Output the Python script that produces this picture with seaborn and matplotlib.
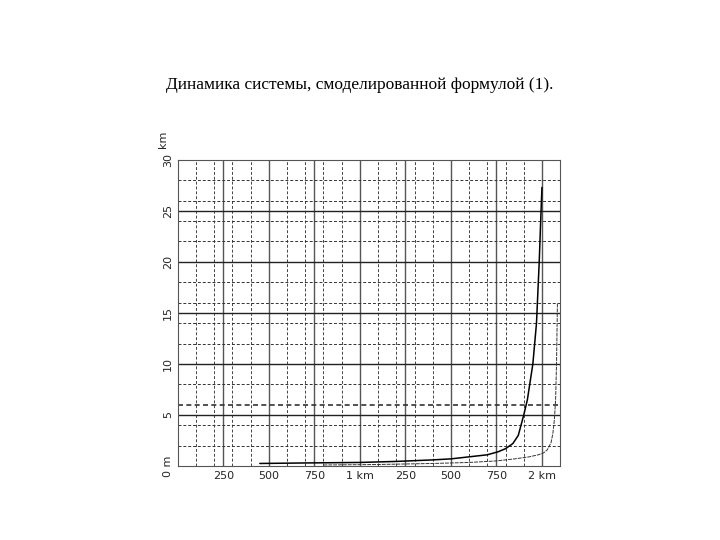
import matplotlib
matplotlib.use('Agg')
import matplotlib.pyplot as plt
import seaborn as sns
import pandas as pd

# кривая 1 (сплошная)
x1 = [450, 700, 1000, 1200, 1400, 1500, 1600, 1700, 1760, 1800, 1840, 1870, 1900, 1920, 1950, 1970, 1985, 1995, 2000]
y1 = [0.25, 0.3, 0.35, 0.45, 0.6, 0.7, 0.9, 1.1, 1.4, 1.7, 2.2, 3.0, 5.0, 6.5, 10.0, 14.0, 20.0, 25.0, 27.3]
# кривая 2 (тонкая)
x2 = [800, 1100, 1400, 1600, 1750, 1850, 1930, 1980, 2010, 2030, 2050, 2060, 2068, 2075, 2080, 2085]
y2 = [0.1, 0.15, 0.25, 0.35, 0.5, 0.7, 0.9, 1.1, 1.3, 1.6, 2.3, 3.2, 4.5, 6.5, 10.0, 16.0]

xticks = [250, 500, 750, 1000, 1250, 1500, 1750, 2000]
xlabels = ['250', '500', '750', '1 km', '250', '500', '750', '2 km']
yticks = [0, 5, 10, 15, 20, 25, 30]
ylabels = ['0 m', '5', '10', '15', '20', '25', '30']

sns.set_style('white')
fig = plt.figure(figsize=(7.2, 5.4), dpi=100)
ax = fig.add_axes([0.247, 0.137, 0.531, 0.567])

# сетка
for v in range(100, 2100, 100):
    if v % 250 != 0:
        ax.axvline(v, color='#444', lw=0.7, ls=(0, (3, 2)), zorder=0)
for v in xticks:
    ax.axvline(v, color='#555', lw=1.0, zorder=0)
for h in range(2, 30, 2):
    if h % 5 != 0:
        ax.axhline(h, color='#333', lw=1.2 if h == 6 else 0.7, ls=(0, (3, 2)), zorder=0)
for h in yticks[1:6]:
    ax.axhline(h, color='#222', lw=1.0, zorder=0)

df1 = pd.DataFrame({'x': x1, 'y': y1})
df2 = pd.DataFrame({'x': x2, 'y': y2})
sns.lineplot(data=df1, x='x', y='y', ax=ax, color='black', lw=1.1)
sns.lineplot(data=df2, x='x', y='y', ax=ax, color='#333', lw=0.7, ls=(0, (4, 1)))

ax.set_xlim(0, 2100)
ax.set_ylim(0, 30)
ax.set_xticks(xticks)
ax.set_xticklabels(xlabels, fontsize=8)
ax.set_yticks(yticks)
ax.set_yticklabels(ylabels, fontsize=8, rotation=90, va='center')
ax.text(-0.04, 1.04, 'km', transform=ax.transAxes, rotation=90, fontsize=8, ha='center', va='bottom')
ax.set_xlabel('')
ax.set_ylabel('')
ax.tick_params(length=0)
for s in ax.spines.values():
    s.set_color('#555')

fig.text(0.5, 0.835, 'Динамика системы, смоделированной формулой (1).',
         ha='center', fontsize=12.5, color='black', family='Liberation Serif')
fig.savefig('out.png', dpi=100)
